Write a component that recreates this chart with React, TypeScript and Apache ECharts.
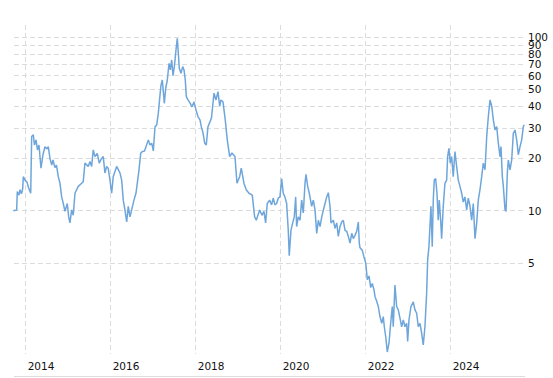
import React, { useEffect, useRef } from "react";
import * as echarts from "echarts";

// Dates as decimal years, prices in currency units
const years: number[] = [
  2013.708, 2013.788, 2013.802, 2013.842, 2013.866, 2013.901, 2013.929, 2013.944, 2013.984, 2014.031,
  2014.066, 2014.118, 2014.141, 2014.179, 2014.207, 2014.242, 2014.278, 2014.313, 2014.360, 2014.407,
  2014.454, 2014.501, 2014.532, 2014.572, 2014.612, 2014.642, 2014.689, 2014.725, 2014.767, 2014.807,
  2014.847, 2014.885, 2014.925, 2014.979, 2015.012, 2015.042, 2015.082, 2015.120, 2015.160, 2015.238,
  2015.318, 2015.355, 2015.395, 2015.473, 2015.513, 2015.553, 2015.591, 2015.631, 2015.685, 2015.732,
  2015.788, 2015.826, 2015.866, 2015.906, 2015.943, 2015.984, 2016.024, 2016.061, 2016.141, 2016.219,
  2016.259, 2016.296, 2016.336, 2016.377, 2016.414, 2016.454, 2016.494, 2016.548, 2016.595, 2016.626,
  2016.666, 2016.706, 2016.743, 2016.795, 2016.831, 2016.885, 2016.925, 2016.965, 2017.002, 2017.042,
  2017.082, 2017.120, 2017.160, 2017.183, 2017.214, 2017.238, 2017.261, 2017.294, 2017.332, 2017.372,
  2017.402, 2017.435, 2017.466, 2017.497, 2017.536, 2017.567, 2017.591, 2017.614, 2017.654, 2017.694,
  2017.725, 2017.755, 2017.779, 2017.819, 2017.866, 2017.913, 2017.960, 2018.007, 2018.054, 2018.101,
  2018.132, 2018.172, 2018.212, 2018.249, 2018.289, 2018.336, 2018.372, 2018.431, 2018.478, 2018.525,
  2018.565, 2018.595, 2018.642, 2018.696, 2018.743, 2018.800, 2018.854, 2018.925, 2018.972, 2019.035,
  2019.073, 2019.136, 2019.191, 2019.254, 2019.332, 2019.388, 2019.426, 2019.506, 2019.560, 2019.607,
  2019.647, 2019.685, 2019.741, 2019.788, 2019.826, 2019.866, 2019.906, 2019.943, 2019.984, 2020.024,
  2020.061, 2020.101, 2020.141, 2020.179, 2020.202, 2020.242, 2020.273, 2020.320, 2020.353, 2020.376,
  2020.414, 2020.454, 2020.494, 2020.532, 2020.572, 2020.595, 2020.635, 2020.673, 2020.729, 2020.767,
  2020.807, 2020.847, 2020.885, 2020.925, 2020.965, 2021.026, 2021.082, 2021.120, 2021.160, 2021.183,
  2021.238, 2021.278, 2021.318, 2021.355, 2021.395, 2021.435, 2021.473, 2021.513, 2021.553, 2021.591,
  2021.631, 2021.671, 2021.708, 2021.748, 2021.788, 2021.826, 2021.849, 2021.866, 2021.920, 2021.960,
  2022.000, 2022.038, 2022.078, 2022.118, 2022.155, 2022.195, 2022.219, 2022.259, 2022.296, 2022.336,
  2022.377, 2022.414, 2022.438, 2022.471, 2022.508, 2022.548, 2022.588, 2022.626, 2022.649, 2022.689,
  2022.729, 2022.767, 2022.807, 2022.847, 2022.885, 2022.925, 2022.965, 2022.988, 2023.019, 2023.066,
  2023.120, 2023.160, 2023.200, 2023.238, 2023.278, 2023.318, 2023.355, 2023.395, 2023.435, 2023.459,
  2023.489, 2023.513, 2023.536, 2023.567, 2023.591, 2023.614, 2023.647, 2023.678, 2023.708, 2023.732,
  2023.765, 2023.788, 2023.826, 2023.866, 2023.906, 2023.929, 2023.960, 2023.991, 2024.024, 2024.061,
  2024.101, 2024.141, 2024.179, 2024.219, 2024.259, 2024.296, 2024.336, 2024.377, 2024.414, 2024.454,
  2024.494, 2024.532, 2024.572, 2024.612, 2024.649, 2024.689, 2024.729, 2024.767, 2024.807, 2024.847,
  2024.885, 2024.925, 2024.965, 2025.002, 2025.042, 2025.082, 2025.120, 2025.160, 2025.183, 2025.214,
  2025.238, 2025.278, 2025.301, 2025.332, 2025.355, 2025.395, 2025.435, 2025.473, 2025.513, 2025.553,
  2025.591, 2025.631, 2025.671, 2025.708, 2025.732,
];

const prices: number[] = [
  10.0, 10.1, 12.9, 12.3, 13.2, 12.5, 13.4, 15.7, 15.0, 14.6,
  13.6, 12.6, 26.8, 27.4, 23.9, 25.6, 22.4, 23.9, 17.6, 21.0,
  23.4, 22.7, 23.4, 20.0, 18.3, 19.6, 17.7, 18.3, 15.7, 14.4,
  12.0, 11.0, 9.9, 11.0, 9.2, 8.5, 10.1, 9.4, 12.6, 13.8,
  14.4, 14.7, 18.8, 18.0, 19.2, 18.0, 22.4, 20.5, 21.4, 18.8,
  20.0, 20.5, 16.5, 18.0, 17.5, 15.0, 12.6, 15.7, 18.0, 16.5,
  15.0, 11.5, 10.1, 8.6, 10.6, 9.2, 10.1, 11.5, 12.6, 14.4,
  17.2, 21.4, 21.9, 22.1, 23.4, 25.6, 23.9, 24.5, 22.1, 30.5,
  31.2, 36.5, 46.5, 53.0, 56.7, 48.6, 41.6, 50.8, 56.7, 70.8,
  64.8, 74.0, 60.0, 67.7, 84.5, 98.7, 80.9, 66.3, 62.0, 67.7,
  64.8, 56.7, 45.5, 43.5, 41.8, 39.7, 42.4, 38.1, 34.9, 33.4,
  30.5, 28.1, 24.5, 23.9, 30.5, 32.5, 34.3, 47.6, 43.5, 48.6,
  40.0, 43.5, 42.5, 33.4, 25.6, 20.5, 21.5, 20.5, 14.4, 15.7,
  17.6, 14.4, 13.2, 12.6, 12.3, 9.2, 8.8, 10.1, 9.4, 9.9,
  8.5, 11.0, 11.5, 10.8, 11.8, 10.8, 11.0, 11.8, 12.0, 15.3,
  12.6, 12.0, 11.0, 7.7, 5.5, 7.7, 8.3, 9.2, 12.0, 8.1,
  9.2, 8.8, 11.5, 9.7, 14.4, 16.2, 13.8, 12.6, 10.6, 11.5,
  10.1, 7.4, 8.8, 8.1, 9.2, 10.6, 12.0, 12.7, 10.6, 8.5,
  8.8, 7.9, 8.5, 7.1, 8.1, 8.6, 8.8, 7.7, 7.6, 7.1,
  6.5, 7.4, 6.9, 7.2, 7.6, 8.6, 6.5, 6.1, 5.9, 5.4,
  5.0, 4.0, 4.2, 3.6, 3.8, 3.5, 3.2, 3.0, 2.8, 2.45,
  2.24, 2.45, 2.14, 1.88, 1.53, 1.72, 2.24, 2.8, 2.14, 3.72,
  2.8, 2.68, 2.4, 2.14, 2.34, 2.14, 2.24, 1.76, 2.34, 2.8,
  2.98, 2.68, 2.56, 2.14, 2.24, 1.96, 1.68, 2.14, 3.34, 5.2,
  6.2, 8.1, 10.6, 6.2, 11.5, 15.0, 15.3, 12.6, 8.8, 11.5,
  8.8, 6.9, 10.6, 14.4, 15.0, 20.5, 22.9, 18.8, 20.5, 15.7,
  21.9, 18.0, 15.0, 13.8, 12.6, 11.2, 12.0, 10.1, 11.8, 10.6,
  8.8, 11.0, 6.9, 8.5, 11.5, 13.2, 15.7, 18.8, 17.2, 26.8,
  34.9, 43.5, 40.0, 33.4, 29.2, 30.5, 24.5, 20.5, 23.4, 15.7,
  13.8, 10.1, 9.9, 16.5, 19.6, 17.2, 19.6, 27.9, 29.2, 25.6,
  21.0, 23.4, 25.6, 30.5, 31.2,
];

const yTickValues: number[] = [5, 10, 20, 30, 40, 50, 60, 70, 80, 90, 100];
// 90 sits very close to 100; it is labelled on an overlay axis so that it is not hidden
const yLabelsMain: number[] = [5, 10, 20, 30, 40, 50, 60, 70, 80, 100];
const yLabelsExtra: number[] = [90];
const xTickYears: number[] = [2014, 2016, 2018, 2020, 2022, 2024];

const Y_MIN = 1.49;
const Y_MAX = 117.7;

function yearToTs(yr: number): number {
  const y = Math.floor(yr);
  const a = Date.UTC(y, 0, 1);
  const b = Date.UTC(y + 1, 0, 1);
  return a + (yr - y) * (b - a);
}

export default function App() {
  const ref = useRef<HTMLDivElement>(null);
  useEffect(() => {
    document.body.style.margin = "0";
    if (!ref.current) return;
    const chart = echarts.init(ref.current, null, { renderer: "svg" });
    const data = years.map((yr, i) => [yearToTs(yr), prices[i]]);
    const xTicks = xTickYears.map((y) => Date.UTC(y, 0, 1));
    const gridLine = { show: true, lineStyle: { color: "#dcdcdc", width: 1, type: [5, 3] as any } };
    const labelStyle = {
      margin: 3,
      color: "#111",
      fontFamily: "DejaVu Sans",
      fontSize: 10.5,
      hideOverlap: false,
      showMinLabel: true,
      showMaxLabel: true,
      formatter: (v: number) => String(Math.round(v)),
    };
    chart.setOption({
      animation: false,
      backgroundColor: "#ffffff",
      grid: { left: 14, right: 28, top: 25, bottom: 24, containLabel: false, outerBoundsMode: "none" },
      xAxis: {
        type: "value",
        min: yearToTs(2013.7247),
        max: yearToTs(2025.748),
        axisLine: { show: false },
        axisTick: { show: false, customValues: xTicks },
        splitLine: gridLine,
        axisLabel: {
          customValues: xTicks,
          formatter: (v: number) => String(new Date(v).getUTCFullYear()),
          align: "left",
          margin: 6,
          padding: [0, 0, 0, 2],
          color: "#111",
          fontFamily: "DejaVu Sans",
          fontSize: 10.5,
          hideOverlap: false,
          showMinLabel: true,
          showMaxLabel: true,
        },
      },
      yAxis: [
        {
          type: "log",
          position: "right",
          min: Y_MIN,
          max: Y_MAX,
          axisLine: { show: false },
          axisTick: { show: false, customValues: yTickValues },
          splitLine: gridLine,
          axisLabel: { ...labelStyle, customValues: yLabelsMain },
        },
        {
          type: "log",
          position: "right",
          min: Y_MIN,
          max: Y_MAX,
          axisLine: { show: false },
          axisTick: { show: false, customValues: yLabelsExtra },
          splitLine: { show: false },
          axisLabel: { ...labelStyle, customValues: yLabelsExtra },
        },
      ],
      graphic: [
        {
          type: "line",
          shape: { x1: 14, y1: 376.5, x2: 525, y2: 376.5 },
          style: { stroke: "#dddddd", lineWidth: 1 },
          silent: true,
        },
      ],
      series: [
        {
          type: "line",
          yAxisIndex: 0,
          data,
          showSymbol: false,
          symbol: "none",
          lineStyle: { color: "#6ea6dc", width: 1.5 },
        },
      ],
    });
    return () => chart.dispose();
  }, []);
  return <div ref={ref} style={{ width: 553, height: 378 }} />;
}
